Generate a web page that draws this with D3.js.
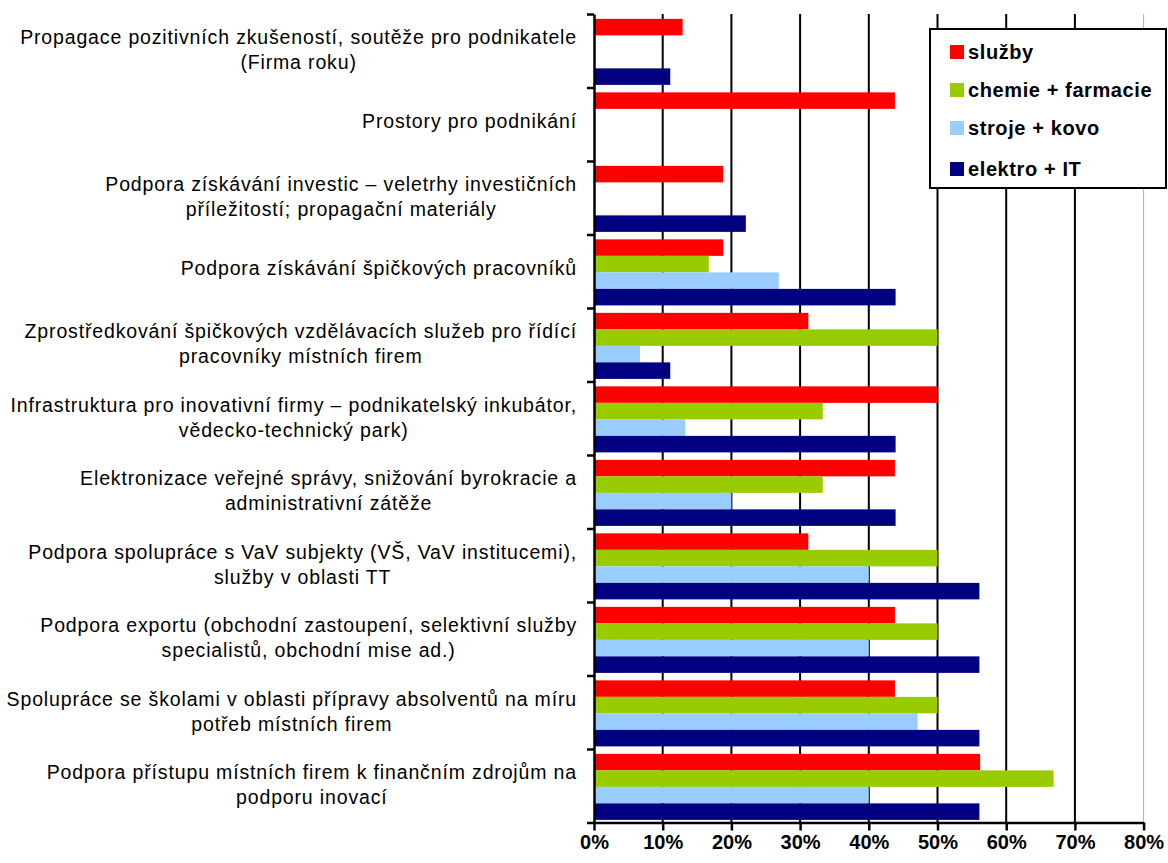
<!DOCTYPE html>
<html>
<head>
<meta charset="utf-8">
<script src="https://cdn.jsdelivr.net/npm/d3@7"></script>
<style>
  html, body { margin: 0; padding: 0; background: #fff; }
  svg { display: block; }
</style>
</head>
<body>
<svg id="chart" width="1168" height="863"></svg>
<script>
// ---- data ----
const categories = [
  ["Propagace pozitivních zkušeností, soutěže pro podnikatele", "(Firma roku)"],
  ["Prostory pro podnikání"],
  ["Podpora získávání investic – veletrhy investičních", "příležitostí; propagační materiály"],
  ["Podpora získávání špičkových pracovníků"],
  ["Zprostředkování špičkových vzdělávacích služeb pro řídící", "pracovníky místních firem"],
  ["Infrastruktura pro inovativní firmy – podnikatelský inkubátor,", "vědecko-technický park)"],
  ["Elektronizace veřejné správy, snižování byrokracie a", "administrativní zátěže"],
  ["Podpora spolupráce s VaV subjekty (VŠ, VaV institucemi),", "služby v oblasti TT"],
  ["Podpora exportu (obchodní zastoupení, selektivní služby", "specialistů, obchodní mise ad.)"],
  ["Spolupráce se školami v oblasti přípravy absolventů na míru", "potřeb místních firem"],
  ["Podpora přístupu místních firem k finančním zdrojům na", "podporu inovací"]
];
const seriesNames = ["služby", "chemie + farmacie", "stroje + kovo", "elektro + IT"];
const sluzby   = [12.9, 43.8, 18.8, 18.8, 31.2, 50, 43.8, 31.2, 43.8, 43.8, 56.2];
const chemie   = [0, 0, 0, 16.7, 50, 33.3, 33.3, 50, 50, 50, 66.9];
const stroje   = [0, 0, 0, 26.9, 6.7, 13.3, 20, 40, 40, 47.1, 40];
const elektro  = [11.1, 0, 22.1, 43.9, 11.1, 43.9, 43.9, 56.1, 56.1, 56.1, 56.1];
const seriesColors = ["#FF0000", "#99CC00", "#99CCFF", "#000080"];
const xTicks = [0, 10, 20, 30, 40, 50, 60, 70, 80];

const seriesValues = [sluzby, chemie, stroje, elektro];

// ---- layout ----
const pLeft = 594, pRight = 1143.6, pTop = 14, pBottom = 822.5;
const svg = d3.select("#chart");
const FONT = "'Liberation Sans', Arial, sans-serif";

const x = d3.scaleLinear().domain([0, 80]).range([pLeft, pRight]);
const y0 = d3.scaleBand().domain(d3.range(categories.length)).range([pTop, pBottom]).padding(0);
const y1 = d3.scaleBand().domain(d3.range(seriesNames.length))
  .range([0, y0.bandwidth()]).paddingInner(0).paddingOuter(0.226).align(0.65);

// plot area right border (thin grey)
svg.append("line")
  .attr("x1", pRight).attr("x2", pRight).attr("y1", pTop).attr("y2", pBottom)
  .attr("stroke", "#b0b0b0").attr("stroke-width", 1);

// grid lines
svg.append("g").selectAll("line")
  .data(xTicks.filter(t => t > 0 && t < 80))
  .join("line")
  .attr("x1", d => x(d)).attr("x2", d => x(d))
  .attr("y1", pTop).attr("y2", pBottom)
  .attr("stroke", "#000").attr("stroke-width", 2);

// bars
const groups = svg.append("g").selectAll("g")
  .data(categories.map((c, i) => i))
  .join("g")
  .attr("transform", i => `translate(0,${y0(i)})`);

groups.selectAll("rect")
  .data(i => seriesValues.map((vals, s) => ({ s, v: vals[i] })))
  .join("rect")
  .attr("x", x(0))
  .attr("y", d => y1(d.s))
  .attr("width", d => x(d.v) - x(0))
  .attr("height", y1.bandwidth())
  .attr("fill", d => seriesColors[d.s]);

// x axis
const xAxis = d3.axisBottom(x).tickValues(xTicks).tickSize(8).tickSizeOuter(0)
  .tickFormat(d => d + "%");
const gx = svg.append("g").attr("transform", `translate(0,${pBottom})`).call(xAxis);
gx.select(".domain").attr("stroke", "#000").attr("stroke-width", 2.5);
gx.selectAll(".tick line").attr("stroke", "#000").attr("stroke-width", 2.5);
gx.selectAll(".tick text")
  .attr("y", 26).attr("dy", 0)
  .attr("font-family", FONT)
  .attr("font-size", 20).attr("font-weight", "bold").attr("fill", "#000");

// y axis (category boundary ticks)
const yAxisScale = d3.scaleLinear().domain([0, categories.length]).range([pTop, pBottom]);
const yAxis = d3.axisLeft(yAxisScale).tickValues(d3.range(categories.length + 1))
  .tickSize(7).tickSizeOuter(0).tickFormat("");
const gy = svg.append("g").attr("transform", `translate(${pLeft},0)`).call(yAxis);
gy.select(".domain").attr("stroke", "#000").attr("stroke-width", 2.5);
gy.selectAll(".tick line").attr("stroke", "#000").attr("stroke-width", 2.5);

// category labels
const labelRight = 577;
const labels = svg.append("g")
  .attr("font-family", FONT)
  .attr("font-size", 19.5).attr("letter-spacing", 0.85).attr("fill", "#000");
categories.forEach((lines, i) => {
  const cy = y0(i) + y0.bandwidth() / 2;
  const lh = 25;
  const base = lines.length > 1 ? 6 : 4;
  const g = labels.append("g");
  const texts = lines.map((ln, k) => g.append("text")
    .attr("text-anchor", "middle")
    .attr("y", cy + (k - (lines.length - 1) / 2) * lh + base)
    .text(ln));
  const w = d3.max(texts, t => t.node().getComputedTextLength());
  texts.forEach(t => t.attr("x", labelRight - w / 2));
});

// legend
const lg = svg.append("g").attr("transform", "translate(930,29)");
lg.append("rect").attr("x", 0).attr("y", 0).attr("width", 236).attr("height", 159)
  .attr("fill", "#fff").attr("stroke", "#000").attr("stroke-width", 2);
seriesNames.forEach((name, s) => {
  const cy = [23, 61, 99, 140][s];
  lg.append("rect").attr("x", 20).attr("y", cy - 7).attr("width", 14).attr("height", 14)
    .attr("fill", seriesColors[s]);
  lg.append("text").attr("x", 38).attr("y", cy + 7)
    .attr("font-family", FONT)
    .attr("font-size", 20).attr("font-weight", "bold").attr("letter-spacing", 0.6)
    .attr("fill", "#000")
    .text(name);
});
</script>
</body>
</html>
